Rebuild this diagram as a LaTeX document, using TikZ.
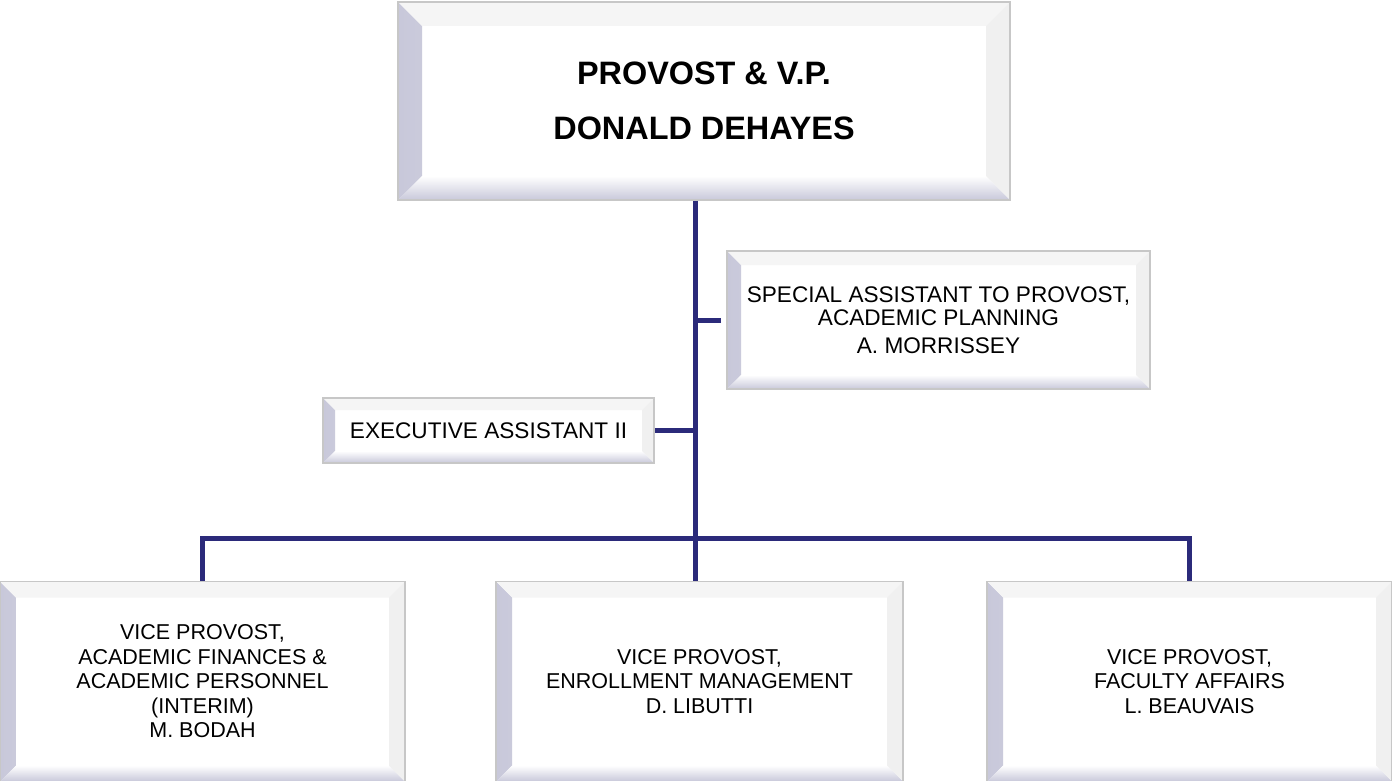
\documentclass[tikz,border=0pt]{standalone}
\usepackage{fontspec}
\setmainfont{Liberation Sans}
\usetikzlibrary{positioning, calc}

\definecolor{navyline}{RGB}{43,42,122}
\definecolor{bevelgray}{RGB}{200,200,218}

\tikzset{
    pbox/.style={draw=black!22, line width=0.8pt, fill=white, rectangle, align=center, inner sep=0pt,
        font=\fontsize{10.75}{12.25}\selectfont,
        path picture={
            % left bevel
            \shade[left color=bevelgray, right color=white]
                (path picture bounding box.south west) -- (path picture bounding box.north west)
                -- ([shift={(#1,-#1)}]path picture bounding box.north west)
                -- ([shift={(#1,#1)}]path picture bounding box.south west) -- cycle;
            % bottom bevel
            \shade[bottom color=bevelgray, top color=white]
                (path picture bounding box.south west) -- (path picture bounding box.south east)
                -- ([shift={(-#1,#1)}]path picture bounding box.south east)
                -- ([shift={(#1,#1)}]path picture bounding box.south west) -- cycle;
            % top and right edges
            \fill[black!4]
                (path picture bounding box.north west) -- (path picture bounding box.north east)
                -- ([shift={(-#1,-#1)}]path picture bounding box.north east)
                -- ([shift={(#1,-#1)}]path picture bounding box.north west) -- cycle;
            \fill[black!6]
                (path picture bounding box.north east) -- (path picture bounding box.south east)
                -- ([shift={(-#1,#1)}]path picture bounding box.south east)
                -- ([shift={(-#1,-#1)}]path picture bounding box.north east) -- cycle;
        }},
    link/.style={draw=navyline, line width=2.5pt}
}

\begin{document}
\begin{tikzpicture}[x=0.5pt, y=-0.5pt]
\useasboundingbox (0,0) rectangle (1392,781);

\node[pbox=12pt, minimum width=306pt, minimum height=99pt, font=\fontsize{16.2}{27.5}\selectfont\bfseries] (provost) at (704,101)
    {PROVOST \& V.P.\\DONALD DEHAYES};

\node[pbox=7pt, minimum width=211.5pt, minimum height=69pt, font=\fontsize{11.3}{11.5}\selectfont] (special) at (938.5,320)
    {SPECIAL ASSISTANT TO PROVOST,\\ACADEMIC PLANNING\\[2.5pt]A. MORRISSEY};

\node[pbox=6pt, minimum width=165.5pt, minimum height=32.5pt, font=\fontsize{11.3}{13}\selectfont] (exec) at (488.5,430.5)
    {EXECUTIVE ASSISTANT II};

\node[pbox=8pt, minimum width=202.5pt, minimum height=100pt] (finance) at (202.5,681.5)
    {VICE PROVOST,\\ACADEMIC FINANCES \&\\ACADEMIC PERSONNEL\\(INTERIM)\\M. BODAH};
\node[pbox=8pt, minimum width=203.5pt, minimum height=100pt] (enroll) at (699.5,681.5)
    {VICE PROVOST,\\ENROLLMENT MANAGEMENT\\D. LIBUTTI};
\node[pbox=8pt, minimum width=202.5pt, minimum height=100pt] (faculty) at (1189.5,681.5)
    {VICE PROVOST,\\FACULTY AFFAIRS\\L. BEAUVAIS};

% trunk and bus
\coordinate (bus) at (695,538);
\draw[link] (provost.south -| bus) -- (enroll.north -| bus);
\draw[link] (finance.north) |- (bus) -| (faculty.north);

% side branches
\draw[link, shorten <=2.5pt] (special.west) -- (special.west -| bus);
\draw[link] (exec.east) -- (exec.east -| bus);
\end{tikzpicture}
\end{document}
